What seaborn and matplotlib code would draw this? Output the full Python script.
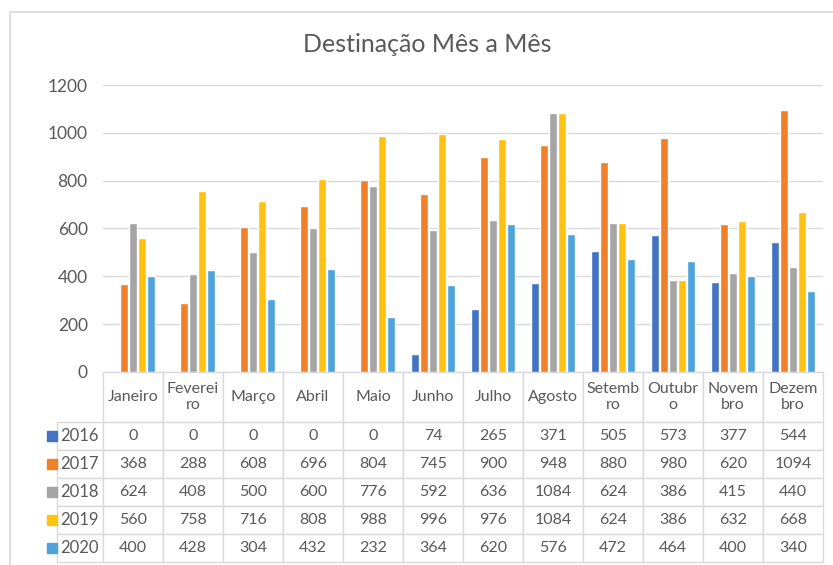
import seaborn as sns
import matplotlib.pyplot as plt
from matplotlib.patches import Rectangle
import pandas as pd

meses = ["Janeiro", "Fevereiro", "Março", "Abril", "Maio", "Junho", "Julho",
         "Agosto", "Setembro", "Outubro", "Novembro", "Dezembro"]
rotulos_meses = ["Janeiro", "Feverei\nro", "Março", "Abril", "Maio", "Junho", "Julho",
                 "Agosto", "Setemb\nro", "Outubr\no", "Novem\nbro", "Dezem\nbro"]
anos = ["2016", "2017", "2018", "2019", "2020"]
v2016 = [0, 0, 0, 0, 0, 74, 265, 371, 505, 573, 377, 544]
v2017 = [368, 288, 608, 696, 804, 745, 900, 948, 880, 980, 620, 1094]
v2018 = [624, 408, 500, 600, 776, 592, 636, 1084, 624, 386, 415, 440]
v2019 = [560, 758, 716, 808, 988, 996, 976, 1084, 624, 386, 632, 668]
v2020 = [400, 428, 304, 432, 232, 364, 620, 576, 472, 464, 400, 340]
cores = ["#4472C4", "#F0802A", "#A5A5A5", "#FFC20E", "#4EA3DC"]

series = [v2016, v2017, v2018, v2019, v2020]
df = pd.DataFrame([
    {"Mês": m, "Ano": a, "Valor": v}
    for a, vals in zip(anos, series)
    for m, v in zip(meses, vals)
])

cinza = "#595959"
borda = "#D9D9D9"

sns.set_theme(style="white")
plt.rcParams['font.family'] = ['Lato', 'DejaVu Sans']

W, H = 833, 565
fig = plt.figure(figsize=(W / 100, H / 100), dpi=100)
ax_l, ax_r, ax_t, ax_b = 103, 823, 85, 372
ax = fig.add_axes([ax_l / W, 1 - ax_b / H, (ax_r - ax_l) / W, (ax_b - ax_t) / H])

sns.barplot(data=df, x="Mês", y="Valor", hue="Ano", palette=cores, saturation=1,
            width=0.75, gap=0.22, order=meses, hue_order=anos, ax=ax, legend=False)

ax.set_ylim(0, 1200)
ax.set_yticks(range(0, 1201, 200))
ax.yaxis.grid(True, color=borda, linewidth=1)
ax.set_axisbelow(True)
ax.set_xlabel("")
ax.set_ylabel("")
ax.set_xticklabels([])
ax.tick_params(axis="x", length=0)
ax.tick_params(axis="y", length=0, pad=11, labelsize=12.5, labelcolor=cinza)
for s in ax.spines.values():
    s.set_visible(False)

# Tabela de dados por baixo do gráfico (medidas em fracções do eixo)
ax_w = ax_r - ax_l
ax_h = ax_b - ax_t
lbl_w = 61 / ax_w
col_w = 1 / len(meses)
head_h = 50 / ax_h
row_h = 28 / ax_h
tab_h = head_h + row_h * len(anos)
tbl = ax.table(cellText=[[str(v) for v in vals] for vals in series],
               rowLabels=anos, colLabels=rotulos_meses,
               cellLoc="center", rowLoc="right",
               bbox=[0, -tab_h, 1, tab_h])
tbl.auto_set_font_size(False)
for (r, c), cell in tbl.get_celld().items():
    cell.set_width(lbl_w if c == -1 else col_w)
    cell.set_height(head_h if r == 0 else row_h)
    cell.set_edgecolor(borda)
    cell.set_linewidth(1)
    cell.get_text().set_color(cinza)
    cell.get_text().set_fontsize(12 if c == -1 else 11.5)

# Marcadores de cor ao lado dos anos
for i, c in enumerate(cores):
    yc = -head_h - row_h * i - row_h / 2
    ax.add_patch(Rectangle((-56 / ax_w, yc - 5 / ax_h), 10 / ax_w, 10 / ax_h,
                           transform=ax.transAxes, color=c, clip_on=False))

fig.text(0.513, 1 - 45 / H, "Destinação Mês a Mês", ha="center", va="center",
         fontsize=18, color=cinza)

# Moldura do gráfico
fig.patches.append(Rectangle((9.5 / W, -0.1), 1.2, 1.1 - 12.5 / H, transform=fig.transFigure,
                             fill=False, edgecolor=borda, linewidth=1.2))

plt.savefig("out.png", dpi=100)
plt.close()
